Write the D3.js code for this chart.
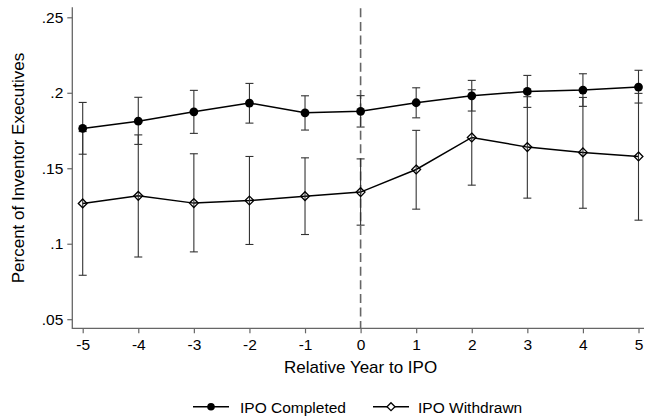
<!DOCTYPE html>
<html>
<head>
<meta charset="utf-8">
<script src="https://cdn.jsdelivr.net/npm/d3@7"></script>
<style>
  html, body { margin: 0; padding: 0; background: #fff; }
  svg { display: block; font-family: "Liberation Sans", Arial, sans-serif; }
</style>
</head>
<body>
<svg id="chart" width="646" height="419"></svg>
<script>
// data
const years = [-5, -4, -3, -2, -1, 0, 1, 2, 3, 4, 5];

const completed   = [0.1764, 0.1812, 0.1874, 0.1932, 0.1867, 0.1877, 0.1934, 0.1980, 0.2009, 0.2018, 0.2038];
const completedLo = [0.1593, 0.1658, 0.1731, 0.1799, 0.1753, 0.1773, 0.1834, 0.1879, 0.1903, 0.1910, 0.1932];
const completedHi = [0.1936, 0.1970, 0.2016, 0.2062, 0.1980, 0.1981, 0.2033, 0.2082, 0.2115, 0.2126, 0.2149];

const withdrawn   = [0.1267, 0.1317, 0.1269, 0.1286, 0.1315, 0.1342, 0.1492, 0.1704, 0.1640, 0.1605, 0.1578];
const withdrawnLo = [0.0791, 0.0912, 0.0946, 0.0995, 0.1061, 0.1123, 0.1229, 0.1388, 0.1302, 0.1235, 0.1156];
const withdrawnHi = [0.1743, 0.1721, 0.1596, 0.1578, 0.1569, 0.1562, 0.1751, 0.2020, 0.1974, 0.1969, 0.1996];

const yTicks      = [0.05, 0.10, 0.15, 0.20, 0.25];
const yTickLabels = [".05", ".1", ".15", ".2", ".25"];
const xTicks      = years;

const seriesNames = ["IPO Completed", "IPO Withdrawn"];

const svg = d3.select("#chart");

// plot frame (pixels)
const frameLeft = 72.3, frameBottom = 328.3, frameTop = 7.3, frameRight = 644;

const x = d3.scaleLinear().domain([-5, 5]).range([82.7, 638.5]);
const y = d3.scaleLinear().domain([0.05, 0.25]).range([319.2, 17.3]);

const axisColor = "#666";

// --- reference line at year 0 ---
svg.append("line")
  .attr("x1", x(0)).attr("x2", x(0))
  .attr("y1", frameTop + 1).attr("y2", frameBottom)
  .attr("stroke", "#666")
  .attr("stroke-width", 1.6)
  .attr("stroke-dasharray", "9,4.6");

// --- axes ---
const yAxis = svg.append("g")
  .attr("transform", `translate(${frameLeft},0)`)
  .call(d3.axisLeft(y)
    .tickValues(yTicks)
    .tickSize(5)
    .tickPadding(4)
    .tickFormat((d, i) => yTickLabels[i]));

const xAxis = svg.append("g")
  .attr("transform", `translate(0,${frameBottom})`)
  .call(d3.axisBottom(x)
    .tickValues(xTicks)
    .tickSize(5)
    .tickPadding(6)
    .tickFormat(d => d));

[yAxis, xAxis].forEach(a => {
  a.select(".domain").remove();
  a.selectAll(".tick line").attr("stroke", axisColor).attr("stroke-width", 1.2);
  a.selectAll(".tick text")
    .attr("fill", "#000")
    .style("font-size", "15.5px")
    .style("font-family", "'Liberation Sans', Arial, sans-serif");
});

svg.append("line")
  .attr("x1", frameLeft).attr("x2", frameLeft)
  .attr("y1", frameTop).attr("y2", frameBottom + 0.6)
  .attr("stroke", axisColor).attr("stroke-width", 1.3);
svg.append("line")
  .attr("x1", frameLeft).attr("x2", frameRight)
  .attr("y1", frameBottom).attr("y2", frameBottom)
  .attr("stroke", axisColor).attr("stroke-width", 1.3);

// axis titles
svg.append("text")
  .attr("transform", `translate(18,168) rotate(-90)`)
  .attr("text-anchor", "middle")
  .attr("dy", "0.35em")
  .style("font-size", "17px")
  .text("Percent of Inventor Executives");

svg.append("text")
  .attr("x", x(0))
  .attr("y", 373)
  .attr("text-anchor", "middle")
  .style("font-size", "17px")
  .text("Relative Year to IPO");

// --- series ---
const rowsC = years.map((yr, i) => ({ yr, v: completed[i], lo: completedLo[i], hi: completedHi[i] }));
const rowsW = years.map((yr, i) => ({ yr, v: withdrawn[i], lo: withdrawnLo[i], hi: withdrawnHi[i] }));

const line = d3.line().x(d => x(d.yr)).y(d => y(d.v));

function drawSeries(rows) {
  svg.append("path")
    .datum(rows)
    .attr("d", line)
    .attr("fill", "none")
    .attr("stroke", "#000")
    .attr("stroke-width", 1.5);

  const bars = svg.append("g")
    .attr("stroke", "#333")
    .attr("stroke-width", 1.1);

  bars.selectAll(".v").data(rows).join("line").attr("class", "v")
    .attr("x1", d => x(d.yr)).attr("x2", d => x(d.yr))
    .attr("y1", d => y(d.lo)).attr("y2", d => y(d.hi));
  bars.selectAll(".lo").data(rows).join("line").attr("class", "lo")
    .attr("x1", d => x(d.yr) - 4).attr("x2", d => x(d.yr) + 4)
    .attr("y1", d => y(d.lo)).attr("y2", d => y(d.lo));
  bars.selectAll(".hi").data(rows).join("line").attr("class", "hi")
    .attr("x1", d => x(d.yr) - 4).attr("x2", d => x(d.yr) + 4)
    .attr("y1", d => y(d.hi)).attr("y2", d => y(d.hi));
}

drawSeries(rowsW);
drawSeries(rowsC);

const diamond = (cx, cy, r) => `M${cx},${cy - r}L${cx + r},${cy}L${cx},${cy + r}L${cx - r},${cy}Z`;

svg.append("g").selectAll("path")
  .data(rowsW)
  .join("path")
  .attr("d", d => diamond(x(d.yr), y(d.v), 4.4))
  .attr("fill", "none")
  .attr("stroke", "#000")
  .attr("stroke-width", 1.3);

svg.append("g").selectAll("circle")
  .data(rowsC)
  .join("circle")
  .attr("cx", d => x(d.yr))
  .attr("cy", d => y(d.v))
  .attr("r", 4.4)
  .attr("fill", "#000");

// --- legend ---
const legendY = 406.7;
const lg = svg.append("g");

lg.append("line").attr("x1", 193).attr("x2", 229).attr("y1", legendY).attr("y2", legendY)
  .attr("stroke", "#000").attr("stroke-width", 1.5);
lg.append("circle").attr("cx", 211).attr("cy", legendY).attr("r", 3.8).attr("fill", "#000");
lg.append("text").attr("x", 240).attr("y", 413).style("font-size", "15.5px").text(seriesNames[0]);

lg.append("line").attr("x1", 373).attr("x2", 409).attr("y1", legendY).attr("y2", legendY)
  .attr("stroke", "#000").attr("stroke-width", 1.5);
lg.append("path").attr("d", diamond(391, legendY, 4))
  .attr("fill", "#fff").attr("stroke", "#000").attr("stroke-width", 1.3);
lg.append("text").attr("x", 418).attr("y", 413).style("font-size", "15.5px").text(seriesNames[1]);
</script>
</body>
</html>
